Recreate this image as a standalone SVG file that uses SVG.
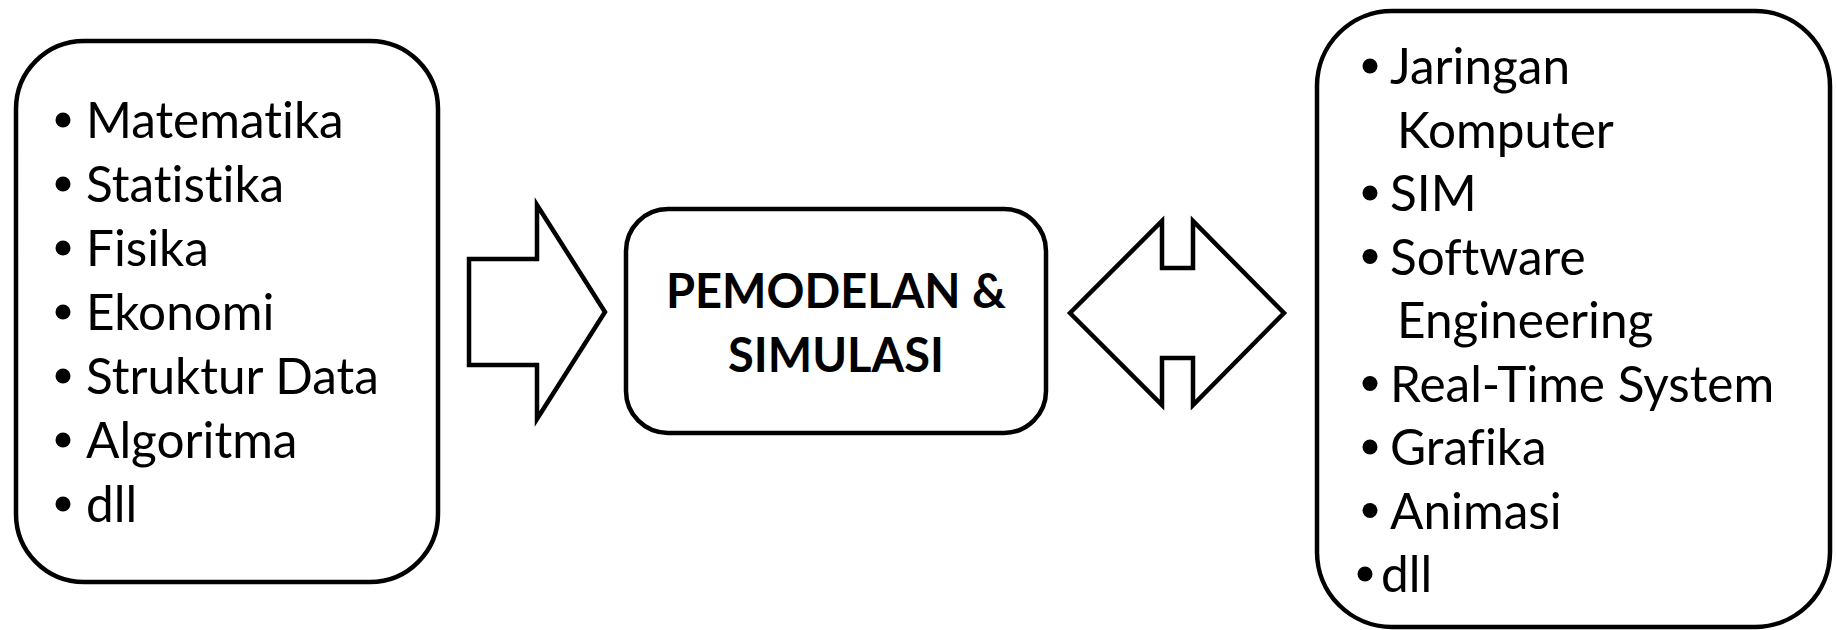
<svg xmlns="http://www.w3.org/2000/svg" width="1836" height="630" viewBox="0 0 1836 630">
<style>
.box{fill:#fff;stroke:#000;stroke-width:4.5}
.arrow{fill:#fff;stroke:#000;stroke-width:4.5;stroke-linejoin:miter}
.t{font-family:Lato,"Open Sans","Liberation Sans",sans-serif;font-size:49.5px;fill:#000;font-variant-ligatures:none}
.b{font-family:Lato,"Open Sans","Liberation Sans",sans-serif;font-size:47px;font-weight:bold;fill:#000;text-anchor:middle;font-variant-ligatures:none}
.dot{fill:#000}
</style>
<rect width="1836" height="630" fill="#fff"/>
<g id="connectors">
<polygon class="arrow" points="469,259 537,259 537,205 605,312 537,419 537,365 469,365"/>
<polygon class="arrow" points="1070,313 1162,221 1162,268 1193,268 1193,221 1284,313 1193,405 1193,358 1162,358 1162,405"/>
</g>
<g id="node-ilmu">
<rect class="box" x="16" y="41" width="422" height="541" rx="68" ry="68"/>
<circle class="dot" cx="63" cy="120" r="7.5"/><text class="t" x="86" y="138">Matematika</text>
<circle class="dot" cx="63" cy="184" r="7.5"/><text class="t" x="86" y="202">Statistika</text>
<circle class="dot" cx="63" cy="248" r="7.5"/><text class="t" x="86" y="266">Fisika</text>
<circle class="dot" cx="63" cy="312" r="7.5"/><text class="t" x="86" y="330">Ekonomi</text>
<circle class="dot" cx="63" cy="376" r="7.5"/><text class="t" x="86" y="394">Struktur Data</text>
<circle class="dot" cx="63" cy="440" r="7.5"/><text class="t" x="86" y="458">Algoritma</text>
<circle class="dot" cx="63" cy="504" r="7.5"/><text class="t" x="86" y="522">dll</text>
</g>
<g id="node-pemodelan">
<rect class="box" x="626" y="209" width="420" height="224" rx="42" ry="42"/>
<text class="b" x="836" y="308">PEMODELAN &amp;</text>
<text class="b" x="836" y="372">SIMULASI</text>
</g>
<g id="node-aplikasi">
<rect class="box" x="1317" y="11" width="513" height="616" rx="75" ry="75"/>
<circle class="dot" cx="1370" cy="66" r="7.5"/><text class="t" x="1390" y="84">Jaringan</text>
<text class="t" x="1397" y="147.5">Komputer</text>
<circle class="dot" cx="1370" cy="193" r="7.5"/><text class="t" x="1390" y="211">SIM</text>
<circle class="dot" cx="1370" cy="256.5" r="7.5"/><text class="t" x="1390" y="274.5">Software</text>
<text class="t" x="1397" y="338">Engineering</text>
<circle class="dot" cx="1370" cy="383.5" r="7.5"/><text class="t" x="1390" y="401.5">Real-Time System</text>
<circle class="dot" cx="1370" cy="447" r="7.5"/><text class="t" x="1390" y="465">Grafika</text>
<circle class="dot" cx="1370" cy="510.5" r="7.5"/><text class="t" x="1390" y="528.5">Animasi</text>
<circle class="dot" cx="1365" cy="574" r="7.5"/><text class="t" x="1381" y="592">dll</text>
</g>
</svg>
